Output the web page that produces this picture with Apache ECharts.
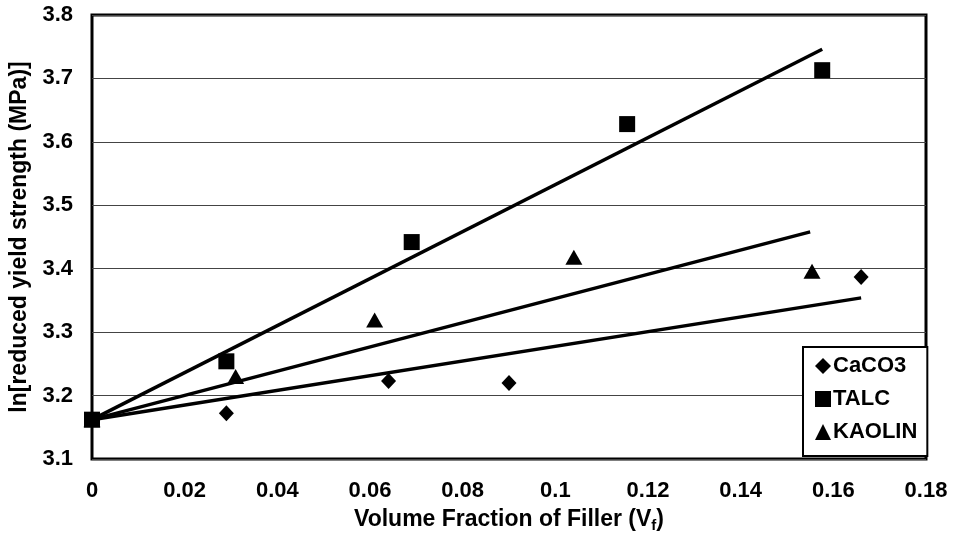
<!DOCTYPE html>
<html>
<head>
<meta charset="utf-8">
<script src="https://cdn.jsdelivr.net/npm/echarts@6/dist/echarts.min.js"></script>
<style>html,body{margin:0;padding:0;background:#fff}#c{width:954px;height:547px}</style>
</head>
<body>
<div id="c"></div>
<script>
// Data
const xCaCO3 = [0, 0.029, 0.064, 0.090, 0.166];
const yCaCO3 = [3.162, 3.172, 3.223, 3.220, 3.387];
const xTalc = [0, 0.029, 0.069, 0.1155, 0.1576];
const yTalc = [3.162, 3.254, 3.442, 3.628, 3.713];
const xKaolin = [0, 0.031, 0.061, 0.104, 0.1554];
const yKaolin = [3.162, 3.230, 3.319, 3.418, 3.396];
// fitted trend lines (start, end)
const fitTalcX = [0, 0.1576], fitTalcY = [3.162, 3.746];
const fitKaolinX = [0, 0.155], fitKaolinY = [3.162, 3.458];
const fitCaCO3X = [0, 0.166], fitCaCO3Y = [3.162, 3.354];

const pairs = (xs, ys) => xs.map((x, i) => [x, ys[i]]);
const font = 'Liberation Sans, Arial, sans-serif';

const chart = echarts.init(document.getElementById('c'));
chart.setOption({
  animation: false,
  backgroundColor: '#fff',
  grid: { left: 92, top: 15, right: 28, bottom: 88, show: true, borderColor: '#000', borderWidth: 3, backgroundColor: 'transparent' },
  xAxis: {
    type: 'value', min: 0, max: 0.18, interval: 0.02,
    axisLine: { show: false }, axisTick: { show: false }, splitLine: { show: false },
    axisLabel: { color: '#000', fontFamily: font, fontWeight: 'bold', fontSize: 22, margin: 21 },
    name: '{a|Volume Fraction of Filler (V}{s|f}{a|)}',
    nameLocation: 'middle', nameGap: 47,
    nameTextStyle: {
      rich: {
        a: { color: '#000', fontFamily: font, fontWeight: 'bold', fontSize: 23 },
        s: { color: '#000', fontFamily: font, fontWeight: 'bold', fontSize: 15, padding: [12, 0, 0, 0] }
      }
    }
  },
  yAxis: {
    type: 'value', min: 3.1, max: 3.8, interval: 0.1,
    axisLine: { show: false }, axisTick: { show: false },
    splitLine: { show: true, lineStyle: { color: '#444', width: 1 } },
    axisLabel: { color: '#000', fontFamily: font, fontWeight: 'bold', fontSize: 22, margin: 19, formatter: v => v.toFixed(1) },
    name: 'ln[reduced yield strength (MPa)]',
    nameLocation: 'middle', nameGap: 60,
    nameTextStyle: { color: '#000', fontFamily: font, fontWeight: 'bold', fontSize: 23 }
  },
  legend: {
    data: ['CaCO3', 'TALC', 'KAOLIN'],
    orient: 'vertical', left: 803, top: 347,
    backgroundColor: '#fff', borderColor: '#000', borderWidth: 2,
    padding: [8, 10, 13, 12], itemGap: 11, itemWidth: 16, itemHeight: 16,
    textStyle: { color: '#000', fontFamily: font, fontWeight: 'bold', fontSize: 22, padding: [0, 0, 0, -3] }
  },
  series: [
    { type: 'line', name: 'fitCaCO3', data: pairs(fitCaCO3X, fitCaCO3Y), showSymbol: false, lineStyle: { color: '#000', width: 3.5 }, z: 3 },
    { type: 'line', name: 'fitKaolin', data: pairs(fitKaolinX, fitKaolinY), showSymbol: false, lineStyle: { color: '#000', width: 3.5 }, z: 3 },
    { type: 'line', name: 'fitTalc', data: pairs(fitTalcX, fitTalcY), showSymbol: false, lineStyle: { color: '#000', width: 3.5 }, z: 3 },
    { type: 'scatter', name: 'CaCO3', data: pairs(xCaCO3, yCaCO3), symbol: 'diamond', symbolSize: [15, 16], itemStyle: { color: '#000', opacity: 1 }, z: 4 },
    { type: 'scatter', name: 'KAOLIN', data: pairs(xKaolin, yKaolin), symbol: 'triangle', symbolSize: [17, 15], itemStyle: { color: '#000', opacity: 1 }, z: 4 },
    { type: 'scatter', name: 'TALC', data: pairs(xTalc, yTalc), symbol: 'rect', symbolSize: 16, itemStyle: { color: '#000', opacity: 1 }, z: 5 }
  ]
});
</script>
</body>
</html>
